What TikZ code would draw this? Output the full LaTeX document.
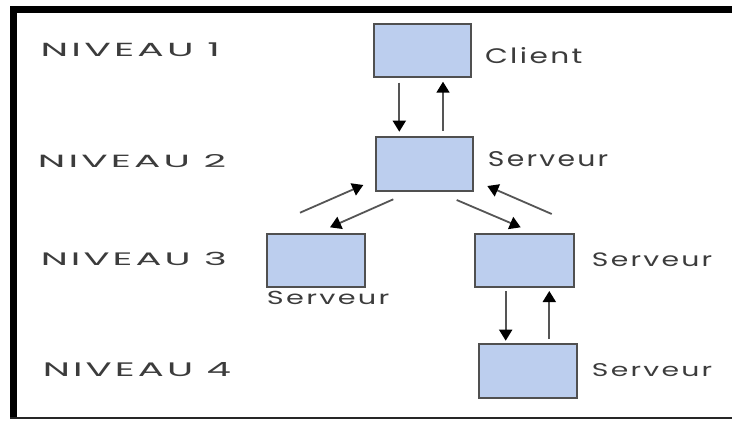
\documentclass[tikz,border=0pt]{standalone}
\usepackage{fontspec}
\usepackage{graphicx}
\usetikzlibrary{arrows.meta}
\newfontfamily\labelfont[LetterSpace=8]{Poppins}
\definecolor{boxfill}{HTML}{BCCEEE}
\definecolor{boxline}{HTML}{505050}
\definecolor{shaft}{HTML}{555555}
\definecolor{ink}{HTML}{3C3C3C}
% text stretched to a given width and height
\newcommand{\fitlabel}[3]{\resizebox{#1pt}{#2pt}{\labelfont #3\kern-0.08em}}
\tikzset{
  box/.style={draw=boxline, fill=boxfill, line width=2.2pt, rectangle,
              inner sep=0pt, minimum width=#1},
  lbl/.style={inner sep=0pt, text=ink},
  link/.style={draw=shaft, line width=1.8pt,
               -{Triangle[width=13pt,length=11pt,color=black,fill=black]}},
  frame/.style={fill=black}
}
\begin{document}
\begin{tikzpicture}[x=1pt,y=-1pt]
\useasboundingbox (0,0) rectangle (732,421);
\fill[white] (0,0) rectangle (732,421);
% frame
\fill[frame] (10,6) rectangle (732,12.5);
\fill[frame] (10,6) rectangle (17,418.5);
\draw[line width=2pt, black!85] (10,417.7) -- (732,417.7);

% boxes
\node[box=97pt, minimum height=53pt] (c)   at (422.5,50.7) {};
\node[box=97pt, minimum height=54pt] (s2)  at (424.5,164) {};
\node[box=98pt, minimum height=53pt] (s3a) at (316,260.5) {};
\node[box=99pt, minimum height=53pt] (s3b) at (524.5,260.5) {};
\node[box=98pt, minimum height=54pt] (s4)  at (528,371) {};

% level labels
\node[lbl] (n1) at (128.7,49.8)  {\fitlabel{176}{13.7}{NIVEAU 1}};
\node[lbl] (n2) at (130.5,161.5) {\fitlabel{185}{13}{NIVEAU 2}};
\node[lbl] (n3) at (132.3,259.3) {\fitlabel{183}{13.3}{NIVEAU 3}};
\node[lbl] (n4) at (135.3,369.7) {\fitlabel{185}{14}{NIVEAU 4}};

% role labels
\node[lbl] (lc)   at (532.5,56)   {\fitlabel{95}{16}{Client}};
\node[lbl] (ls2)  at (547,159)    {\fitlabel{118}{15}{Serveur}};
\node[lbl] (ls3a) at (327,298.3)  {\fitlabel{120}{13.3}{Serveur}};
\node[lbl] (ls3b) at (651,260)    {\fitlabel{118}{13.7}{Serveur}};
\node[lbl] (ls4)  at (651,370.5)  {\fitlabel{118}{13}{Serveur}};

% arrow end points
\coordinate (a1s) at (399.3,82.7);  \coordinate (a1e) at (399.3,131.7);
\coordinate (a2s) at (443,130.7);   \coordinate (a2e) at (443,81.7);
\coordinate (d1s) at (300,212.7);   \coordinate (d1e) at (363.3,185);
\coordinate (d2s) at (393.3,199.3); \coordinate (d2e) at (330,227.3);
\coordinate (d3s) at (456.7,200);   \coordinate (d3e) at (520.7,227.3);
\coordinate (d4s) at (551.7,214);   \coordinate (d4e) at (487.3,186);
\coordinate (v1s) at (505.7,291);   \coordinate (v1e) at (505.7,340.7);
\coordinate (v2s) at (549.3,339);   \coordinate (v2e) at (549.3,291);

% connectors
\draw[link] (a1s) -- (a1e);
\draw[link] (a2s) -- (a2e);
\draw[link] (d1s) -- (d1e);
\draw[link] (d2s) -- (d2e);
\draw[link] (d3s) -- (d3e);
\draw[link] (d4s) -- (d4e);
\draw[link] (v1s) -- (v1e);
\draw[link] (v2s) -- (v2e);
\end{tikzpicture}
\end{document}
